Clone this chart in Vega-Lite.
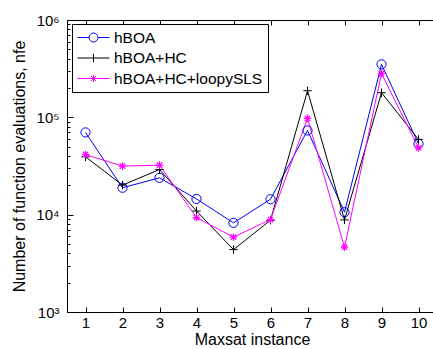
{
  "$schema": "https://vega.github.io/schema/vega-lite/v6.json",
  "width": 370,
  "height": 292,
  "autosize": {"type": "none"},
  "padding": {"left": 67, "top": 20, "right": 0, "bottom": 37},
  "background": "white",
  "config": {
    "view": {"stroke": "black", "strokeWidth": 1},
    "font": "Liberation Sans",
    "axis": {
      "grid": false,
      "domainColor": "black",
      "tickColor": "black",
      "labelColor": "black",
      "titleColor": "black",
      "labelFont": "Liberation Sans",
      "titleFont": "Liberation Sans",
      "labelFontSize": 15,
      "titleFontSize": 16,
      "titleFontWeight": "normal"
    }
  },
  "data": {
    "values": [
      {"instance": 1, "algo": "hBOA", "evals": 70000},
      {"instance": 2, "algo": "hBOA", "evals": 18900},
      {"instance": 3, "algo": "hBOA", "evals": 23900},
      {"instance": 4, "algo": "hBOA", "evals": 14500},
      {"instance": 5, "algo": "hBOA", "evals": 8240},
      {"instance": 6, "algo": "hBOA", "evals": 14400},
      {"instance": 7, "algo": "hBOA", "evals": 73300},
      {"instance": 8, "algo": "hBOA", "evals": 10600},
      {"instance": 9, "algo": "hBOA", "evals": 350000},
      {"instance": 10, "algo": "hBOA", "evals": 53500},
      {"instance": 1, "algo": "hBOA+HC", "evals": 39300},
      {"instance": 2, "algo": "hBOA+HC", "evals": 20100},
      {"instance": 3, "algo": "hBOA+HC", "evals": 29100},
      {"instance": 4, "algo": "hBOA+HC", "evals": 10900},
      {"instance": 5, "algo": "hBOA+HC", "evals": 4380},
      {"instance": 6, "algo": "hBOA+HC", "evals": 8770},
      {"instance": 7, "algo": "hBOA+HC", "evals": 187600},
      {"instance": 8, "algo": "hBOA+HC", "evals": 8840},
      {"instance": 9, "algo": "hBOA+HC", "evals": 179000},
      {"instance": 10, "algo": "hBOA+HC", "evals": 59300},
      {"instance": 1, "algo": "hBOA+HC+loopySLS", "evals": 41500},
      {"instance": 2, "algo": "hBOA+HC+loopySLS", "evals": 31500},
      {"instance": 3, "algo": "hBOA+HC+loopySLS", "evals": 32300},
      {"instance": 4, "algo": "hBOA+HC+loopySLS", "evals": 9340},
      {"instance": 5, "algo": "hBOA+HC+loopySLS", "evals": 5870},
      {"instance": 6, "algo": "hBOA+HC+loopySLS", "evals": 8910},
      {"instance": 7, "algo": "hBOA+HC+loopySLS", "evals": 97500},
      {"instance": 8, "algo": "hBOA+HC+loopySLS", "evals": 4630},
      {"instance": 9, "algo": "hBOA+HC+loopySLS", "evals": 282000},
      {"instance": 10, "algo": "hBOA+HC+loopySLS", "evals": 48600}
    ]
  },
  "encoding": {
    "x": {
      "field": "instance",
      "type": "quantitative",
      "scale": {"domain": [0.5, 10.5], "nice": false, "zero": false},
      "axis": null
    },
    "y": {
      "field": "evals",
      "type": "quantitative",
      "scale": {"type": "log", "domain": [1000, 1000000], "nice": false},
      "axis": {
        "title": "Number of function evaluations, nfe",
        "values": [1000, 2000, 3000, 4000, 5000, 6000, 7000, 8000, 9000, 10000, 20000, 30000, 40000, 50000, 60000, 70000, 80000, 90000, 100000, 200000, 300000, 400000, 500000, 600000, 700000, 800000, 900000, 1000000],
        "labelExpr": "datum.value==1000?'10\u00b3':datum.value==10000?'10\u2074':datum.value==100000?'10\u2075':datum.value==1000000?'10\u2076':''",
        "tickSize": {"condition": {"test": "datum.value==1000||datum.value==10000||datum.value==100000||datum.value==1000000", "value": -6}, "value": -3},
        "labelPadding": 14,
        "titlePadding": 8,
        "labelOverlap": false
      }
    },
    "color": {
      "field": "algo",
      "type": "nominal",
      "scale": {"domain": ["hBOA", "hBOA+HC", "hBOA+HC+loopySLS"], "range": ["#0000ff", "#000000", "#ff00ff"]},
      "legend": {
        "title": null,
        "orient": "none",
        "legendX": 5,
        "legendY": 4,
        "padding": 5,
        "strokeColor": "black",
        "fillColor": "white",
        "labelFont": "Liberation Sans",
        "labelFontSize": 15.5,
        "labelColor": "black",
        "labelOffset": 12,
        "symbolOffset": 8,
        "rowPadding": 3.5,
        "symbolSize": 256,
        "symbolStrokeWidth": 1,
        "encode": {
          "symbols": {
            "update": {
              "shape": {"signal": "datum.value=='hBOA' ? 'M-2,0L-0.56,0M0.56,0L2,0M0.56,0A0.56,0.56,0,1,1,-0.56,0A0.56,0.56,0,1,1,0.56,0' : datum.value=='hBOA+HC' ? 'M-2,0L2,0M0,-0.52L0,0.52' : 'M-2,0L2,0M0,-0.44L0,0.44M-0.32,-0.32L0.32,0.32M-0.32,0.32L0.32,-0.32'"},
              "fill": {"value": "transparent"},
              "strokeWidth": {"value": 1}
            }
          }
        }
      }
    }
  },
  "layer": [
    {
      "mark": {"type": "line", "strokeWidth": 1},
      "encoding": {
        "x": {
          "field": "instance",
          "type": "quantitative",
          "axis": {
            "title": "Maxsat instance",
            "values": [1, 2, 3, 4, 5, 6, 7, 8, 9, 10],
            "tickSize": -5,
            "labelPadding": 8,
            "titlePadding": 1
          }
        }
      }
    },
    {
      "transform": [{"filter": "datum.algo=='hBOA'"}],
      "mark": {"type": "point", "filled": false, "strokeWidth": 1, "size": 64, "opacity": 1, "shape": "M1.15,0A1.15,1.15,0,1,1,-1.15,0A1.15,1.15,0,1,1,1.15,0Z"},
      "encoding": {
        "x": {
          "field": "instance",
          "type": "quantitative",
          "axis": {
            "orient": "top",
            "title": null,
            "labels": false,
            "domain": false,
            "values": [1, 2, 3, 4, 5, 6, 7, 8, 9, 10],
            "tickSize": -5
          }
        }
      }
    },
    {
      "transform": [{"filter": "datum.algo=='hBOA+HC'"}],
      "mark": {"type": "point", "filled": false, "strokeWidth": 1, "size": 64, "opacity": 1, "shape": "M-1.05,0L1.05,0M0,-1.05L0,1.05"}
    },
    {
      "transform": [{"filter": "datum.algo=='hBOA+HC+loopySLS'"}],
      "mark": {"type": "point", "filled": false, "strokeWidth": 1.2, "size": 64, "opacity": 1, "shape": "M-0.95,0L0.95,0M0,-0.95L0,0.95M-0.68,-0.68L0.68,0.68M-0.68,0.68L0.68,-0.68"}
    }
  ],
  "resolve": {"axis": {"x": "independent"}}
}
